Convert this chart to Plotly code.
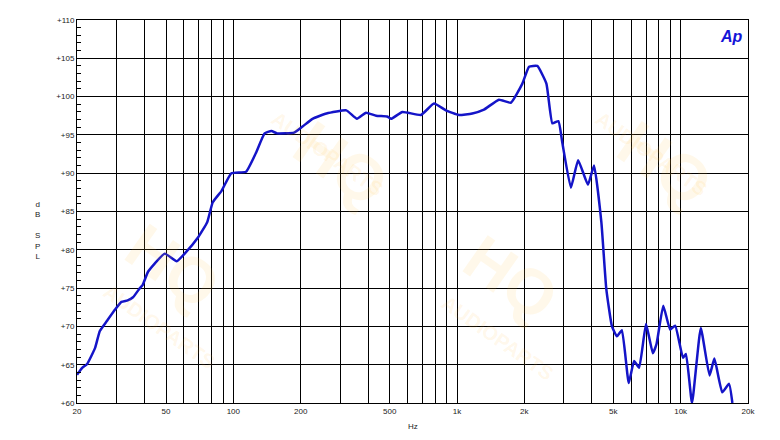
import plotly.graph_objects as go

freq_hz = [20, 21.1, 22.2, 24.1, 25.3, 27.2, 29.6, 31.6, 33.7, 35.6, 38.2, 39.3, 41.5, 44.5, 49.4,
           55.8, 60.6, 69.5, 76.4, 80.9, 88.6, 98, 114, 126, 138, 148, 157, 187, 204, 226, 261,
           320, 357, 392, 435, 487, 508, 570, 690, 789, 892, 1020, 1170, 1320, 1540, 1740, 1960,
           2100, 2285, 2510, 2670, 2840, 2960, 3230, 3480, 3850, 4100, 4420, 4650, 4930, 5190,
           5460, 5860, 6190, 6520, 7000, 7510, 7800, 8360, 8970, 9450, 10240, 10560, 11240,
           12300, 13460, 14150, 15340, 16460, 17030]
spl_db = [63.7, 64.6, 65.1, 67.2, 69.4, 70.7, 72.2, 73.2, 73.4, 73.8, 75.0, 75.4, 77.1, 78.2, 79.5,
          78.5, 79.5, 81.6, 83.6, 86.2, 87.7, 90.0, 90.2, 92.6, 95.2, 95.5, 95.2, 95.3, 96.1, 97.1,
          97.8, 98.2, 97.1, 97.9, 97.5, 97.4, 97.1, 98.0, 97.6, 99.1, 98.2, 97.6, 97.8, 98.3, 99.6,
          99.2, 101.7, 103.9, 104.0, 101.7, 96.5, 96.8, 93.9, 88.1, 91.7, 88.5, 91.0, 83.6, 74.9,
          70.0, 68.7, 69.5, 62.6, 65.5, 64.6, 70.3, 66.5, 67.7, 72.7, 69.6, 70.1, 65.9, 66.4, 60.0,
          69.8, 63.6, 65.8, 61.4, 62.5, 60.0]

x_tick_vals = [20, 50, 100, 200, 500, 1000, 2000, 5000, 10000, 20000]
x_tick_text = ["20", "50", "100", "200", "500", "1k", "2k", "5k", "10k", "20k"]
x_grid_vals = [30, 40, 60, 70, 80, 90, 300, 400, 600, 700, 800, 900,
               3000, 4000, 6000, 7000, 8000, 9000]
y_tick_vals = list(range(60, 111, 5))
y_tick_text = ["+%d" % v for v in y_tick_vals]

fig = go.Figure()

# faint watermarks
for (px, py) in [(0.3, 0.78), (0.74, 0.17), (0.97, 0.78), (0.05, 0.2)]:
    fig.add_annotation(xref="paper", yref="paper", x=px, y=py, text="<b>HQ</b>",
                       showarrow=False, textangle=35, font=dict(size=64, color="rgba(255,190,60,0.11)", family="Liberation Sans"))
    fig.add_annotation(xref="paper", yref="paper", x=px - 0.02, y=py - 0.13, text="<b>AUDIOPARTS</b>",
                       showarrow=False, textangle=35, font=dict(size=20, color="rgba(255,190,60,0.11)", family="Liberation Sans"))

fig.add_trace(go.Scatter(x=freq_hz, y=spl_db, mode="lines",
                         line=dict(color="#1414c8", width=2.5, shape="spline", smoothing=0.4),
                         showlegend=False))

fig.update_layout(
    width=780, height=440,
    margin=dict(l=69, r=40, t=8, b=45),
    paper_bgcolor="white", plot_bgcolor="rgba(0,0,0,0)",
    font=dict(family="Liberation Sans", size=8, color="#222"),
    xaxis=dict(type="log", range=[1.30103, 4.30103], tickvals=x_tick_vals, ticktext=x_tick_text,
               showgrid=True, gridcolor="black", gridwidth=1, showline=True, linecolor="black",
               linewidth=1, mirror=True, ticks="", zeroline=False,
               minor=dict(tickvals=x_grid_vals, showgrid=True, gridcolor="black", gridwidth=1, ticks="")),
    yaxis=dict(range=[60, 110], tickvals=y_tick_vals, ticktext=y_tick_text,
               showgrid=True, gridcolor="black", gridwidth=1, showline=True, linecolor="black",
               linewidth=1, mirror=True, ticks="inside", ticklen=8, tickcolor="black", zeroline=False,
               minor=dict(dtick=1, ticks="inside", ticklen=4, tickcolor="black", showgrid=False)),
)
fig.add_annotation(xref="paper", yref="paper", x=-0.065, y=0.45, text="d<br>B<br> <br>S<br>P<br>L",
                   showarrow=False, font=dict(size=8))
fig.add_annotation(xref="paper", yref="paper", x=0.5, y=-0.045, text="Hz", showarrow=False,
                   yanchor="top", font=dict(size=8))
fig.add_annotation(xref="paper", yref="paper", x=0.995, y=0.985, text="<b><i>Ap</i></b>", showarrow=False,
                   font=dict(size=16, color="#1414d8", family="Liberation Sans"))

fig.write_html("out.html")
